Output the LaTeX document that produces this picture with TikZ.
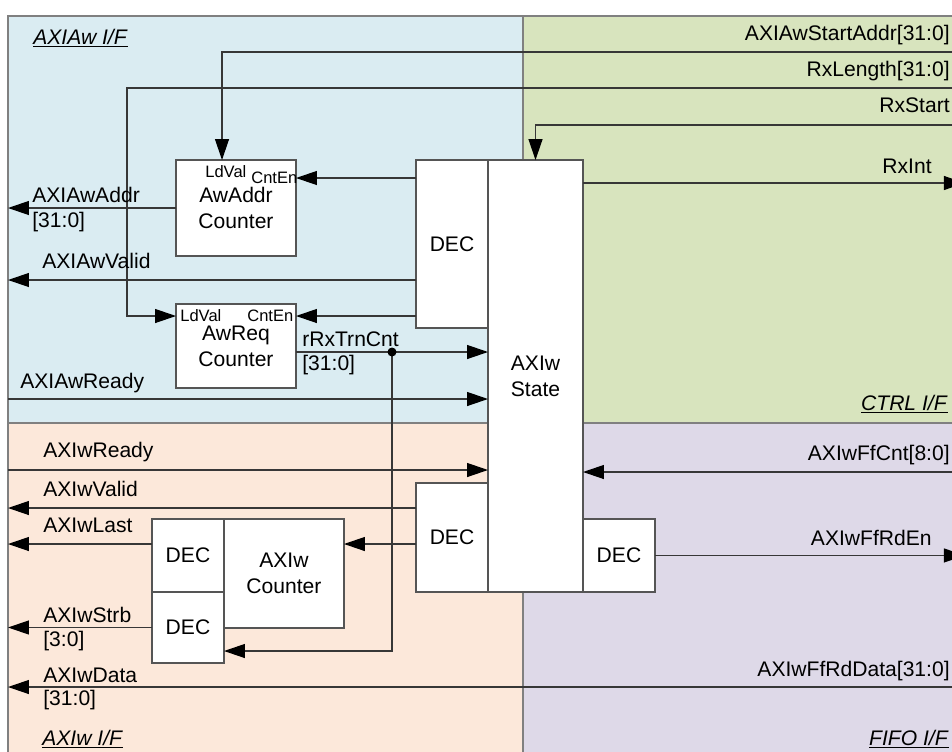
\documentclass[tikz,border=0pt]{standalone}
\usepackage{fontspec}
\setmainfont{Liberation Sans}
\usetikzlibrary{positioning,arrows.meta}
\definecolor{awblue}{RGB}{218,236,242}
\definecolor{ctrlgreen}{RGB}{216,228,190}
\definecolor{wpeach}{RGB}{252,232,218}
\definecolor{fifolav}{RGB}{222,217,232}
\definecolor{wirec}{RGB}{55,55,55}
\definecolor{rimc}{RGB}{128,128,128}

\begin{document}
\begin{tikzpicture}[x=0.02cm,y=-0.02cm,
  >={Triangle[length=4.2mm,width=2.8mm,color=black]},
  font=\fontsize{12}{14.8}\selectfont,
  area/.style={draw=rimc,line width=1.2pt,inner sep=0pt,outer sep=0pt,anchor=north west,
    minimum width=10.3cm},
  box/.style={draw=wirec!85,fill=white,line width=0.8pt,inner sep=0pt,outer sep=0pt,align=center},
  port/.style={font=\fontsize{9.4}{11}\selectfont,inner sep=0pt,anchor=base west},
  sig/.style={inner sep=0pt,anchor=base west},
  sigr/.style={inner sep=0pt,anchor=base east},
  wire/.style={draw=wirec,line width=0.7pt}]
  \useasboundingbox (0,0) rectangle (952,751);
  \clip (0,0) rectangle (952,751);

  \node (BL) [area, fill=awblue, minimum height=8.14cm] at (8,16) {};
  \node (GR) [area, fill=ctrlgreen, minimum width=8.84cm, minimum height=8.14cm] at (BL.north east) {};
  \node (PE) [area, fill=wpeach, minimum height=6.74cm] at (BL.south west) {};
  \node (LV) [area, fill=fifolav, minimum width=8.84cm, minimum height=6.74cm] at (BL.south east) {};

  \node (tBL) [sig] at (33,44) {\underline{\textit{AXIAw I/F}}};
  \node (tGR) [sigr] at (948,410) {\underline{\textit{CTRL I/F}}};
  \node (tPE) [sig] at (42,745) {\underline{\textit{AXIw I/F}}};
  \node (tLV) [sigr] at (949,745) {\underline{\textit{FIFO I/F}}};

  \node (S) [box, minimum width=1.9cm, minimum height=8.64cm] at (535.5,376) {AXIw\\State};
  \node (D1) [box, minimum width=1.44cm, minimum height=3.36cm, anchor=north east] at (S.north west) {DEC};
  \node (D2) [box, minimum width=1.44cm, minimum height=2.18cm, anchor=south east] at (S.south west) {DEC};
  \node (D3) [box, minimum width=1.44cm, minimum height=1.46cm, anchor=south west] at (S.south east) {DEC};
  \node (AA) [box, minimum width=2.4cm, minimum height=1.92cm] at (236,208) {AwAddr\\Counter};
  \node (AR) [box, minimum width=2.4cm, minimum height=1.68cm] at (236,346) {AwReq\\Counter};
  \node (D4) [box, minimum width=1.44cm, minimum height=1.46cm, anchor=north west] at (152,519) {DEC};
  \node (D5) [box, minimum width=1.44cm, minimum height=1.42cm, below=0pt of D4] {DEC};
  \node (C) [box, minimum width=2.4cm, minimum height=2.18cm, anchor=north west] at (D4.north east) {AXIw\\Counter};

  \node (AAld) [port] at (205,177) {LdVal};
  \node (AAen) [port] at (251,183) {CntEn};
  \node (ARld) [port] at (180,321) {LdVal};
  \node (ARen) [port] at (247,321) {CntEn};

  \coordinate (c1) at (222,52);
  \coordinate (c2) at (127,88);
  \coordinate (c3) at (127,316);
  \coordinate (j) at (392,352);

  \draw[wire,->] (GR.east |- c1) -- (c1) -- (c1 |- AA.north);
  \draw[wire,->] (GR.east |- c2) -- (c2) -- (c3) -- (c3 -| AR.west);
  \draw[wire,->] (GR.east |- 0,125) -| (S.north);
  \draw[wire,->] (S.east |- 0,183) -- (GR.east |- 0,183);
  \draw[wire,->] (D1.west |- 0,178) -- (AA.east |- 0,178);
  \draw[wire,->] (AA.west) -- (BL.west |- AA.west);
  \draw[wire,->] (D1.west |- 0,280) -- (BL.west |- 0,280);
  \draw[wire,->] (D1.west |- 0,316) -- (AR.east |- 0,316);
  \draw[wire,->] (AR.east |- j) -- (S.west |- j);
  \draw[wire,->] (j) |- (D5.east |- 0,651);
  \fill[black] (j) circle (0.09cm);
  \draw[wire,->] (BL.west |- 0,399) -- (S.west |- 0,399);
  \draw[wire,->] (PE.west |- 0,470) -- (S.west |- 0,470);
  \draw[wire,->] (D2.west |- 0,508) -- (PE.west |- 0,508);
  \draw[wire,->] (D4.west |- 0,544) -- (PE.west |- 0,544);
  \draw[wire,->] (D2.west |- 0,544) -- (C.east |- 0,544);
  \draw[wire,->] (D5.west) -- (PE.west |- D5.west);
  \draw[wire,->] (LV.east |- 0,687) -- (PE.west |- 0,687);
  \draw[wire,->] (LV.east |- 0,472) -- (S.east |- 0,472);
  \draw[wire,->] (D3.east) -- (LV.east |- D3.east);

  \node (lStart) [sigr] at (950,40) {AXIAwStartAddr[31:0]};
  \node (lLen) [sigr] at (950,76) {RxLength[31:0]};
  \node (lRxS) [sigr] at (950,112) {RxStart};
  \node (lInt) [sigr] at (932,173) {RxInt};
  \node (lFfCnt) [sigr] at (950,460) {AXIwFfCnt[8:0]};
  \node (lFfEn) [sigr] at (932,545) {AXIwFfRdEn};
  \node (lFfDat) [sigr] at (950,676) {AXIwFfRdData[31:0]};

  \node (lAddr) [sig] at (32,202) {AXIAwAddr};
  \node (lAddrW) [sig] at (32,227) {[31:0]};
  \node (lAValid) [sig] at (42,268) {AXIAwValid};
  \node (lAReady) [sig] at (20,388) {AXIAwReady};
  \node (lTrn) [sig] at (302,346) {rRxTrnCnt};
  \node (lTrnW) [sig] at (302,370) {[31:0]};
  \node (lWReady) [sig] at (43,457) {AXIwReady};
  \node (lWValid) [sig] at (43,496) {AXIwValid};
  \node (lWLast) [sig] at (43,532) {AXIwLast};
  \node (lWStrb) [sig] at (43,622) {AXIwStrb};
  \node (lWStrbW) [sig] at (43,646) {[3:0]};
  \node (lWData) [sig] at (43,682) {AXIwData};
  \node (lWDataW) [sig] at (43,705) {[31:0]};
\end{tikzpicture}
\end{document}
